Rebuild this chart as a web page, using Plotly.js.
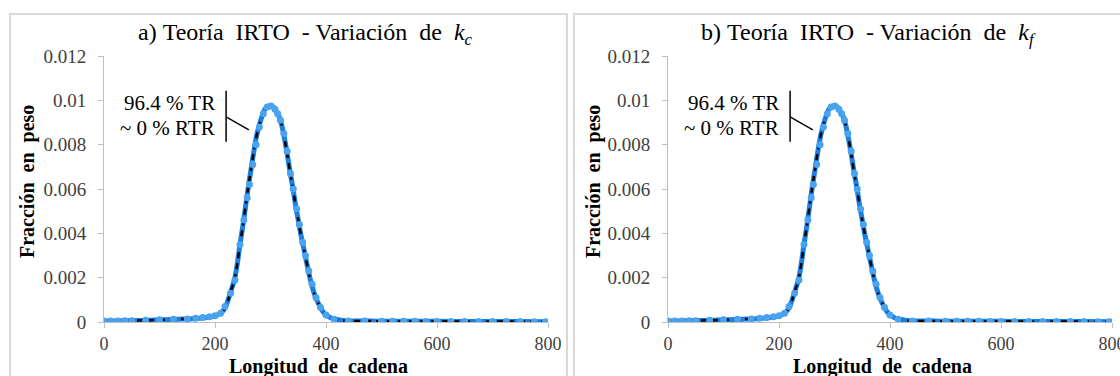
<!DOCTYPE html>
<html>
<head>
<meta charset="utf-8">
<script src="https://cdn.plot.ly/plotly-3.0.1.min.js"></script>
<style>html,body{margin:0;padding:0;background:#fff;}#chart{width:1120px;height:376px;}</style>
</head>
<body>
<div id="chart"></div>
<script>
// ---- data ----
const chainLength = [0,20,40,60,80,100,120,140,160,180,190,200,205,210,215,220,225,230,235,240,245,250,255,260,265,270,275,280,285,290,295,300,305,310,315,320,325,330,335,340,345,350,355,360,365,370,375,380,385,390,395,400,405,410,420,430,440,460,480,500,550,600,650,700,750,800];
const weightFrac = [0.00004,0.00005,0.00006,0.00007,0.00008,0.0001,0.00011,0.00013,0.00015,0.00019,0.00023,0.00028,0.00033,0.0004,0.00052,0.00075,0.0011,0.0015,0.0019,0.0026,0.0035,0.0043,0.0052,0.0061,0.0069,0.0077,0.0084,0.0089,0.0093,0.0096,0.00972,0.00975,0.0097,0.0095,0.0093,0.0089,0.0083,0.0076,0.0068,0.0061,0.0053,0.0046,0.0039,0.0033,0.0027,0.0021,0.0016,0.0012,0.0009,0.00066,0.00045,0.00032,0.00024,0.00017,0.00011,0.00007,0.00005,0.00004,0.00004,0.00003,0.00003,0.00003,0.00002,0.00002,0.00002,0.00001];
const markerX = [0,12,25,38,50,75,100,125,150,165,178,190,200,210,218,228,236,245,252,258,262,268,274,280,287,294,301,308,313,318,324,330,336,341,347,352,358,363,369,375,382,390,400,415,440,470,500,520,540,560,580,600,625,650,675,700,725,750,775,795];
const markerY = [0.00004,0.00004,0.00005,0.00006,0.00006,0.00008,0.0001,0.00012,0.00014,0.00017,0.0002,0.00024,0.00028,0.0004,0.0007,0.0013,0.0019,0.0035,0.0046,0.0056,0.0062,0.0071,0.008,0.0088,0.0094,0.0097,0.00975,0.0096,0.0094,0.0091,0.0085,0.0077,0.0067,0.006,0.0051,0.0044,0.0036,0.003,0.0023,0.0017,0.0011,0.00066,0.00032,0.00012,0.00005,0.00004,0.00003,0.00003,0.00003,0.00003,0.00002,0.00002,0.00002,0.00002,0.00002,0.00002,0.00002,0.00002,0.00001,0.00001];
const xTicks = [0,200,400,600,800];
const yTicks = [0,0.002,0.004,0.006,0.008,0.01,0.012];
const yTickText = ['0','0.002','0.004','0.006','0.008','0.01','0.012'];
const panelTitles = ['a)&nbsp;Teoría&nbsp; IRTO&nbsp; - Variación&nbsp; de&nbsp; <i>k<sub>c</sub></i>', 'b)&nbsp;Teoría&nbsp; IRTO&nbsp; - Variación&nbsp; de&nbsp; <i>k<sub>f</sub></i>'];
const noteLines = ['96.4 % TR', '~ 0 % RTR'];
const xTitle = 'Longitud&nbsp; de&nbsp; cadena';
const yTitle = 'Fracción&nbsp; en&nbsp; peso';

// ---- build ----
const serif = 'Liberation Serif, DejaVu Serif, serif';
const traces = [];
['', '2'].forEach(s => {
  const xa = 'x' + s, ya = 'y' + s;
  traces.push({x: chainLength, y: weightFrac, xaxis: xa, yaxis: ya, mode: 'lines', line: {color: '#e8175d', width: 3, shape: 'spline'}, hoverinfo: 'skip'});
  traces.push({x: chainLength, y: weightFrac, xaxis: xa, yaxis: ya, mode: 'lines', line: {color: '#1a80e6', width: 5, shape: 'spline'}, hoverinfo: 'skip'});
  traces.push({x: chainLength, y: weightFrac, xaxis: xa, yaxis: ya, mode: 'lines', line: {color: '#000000', width: 2.5, dash: '6px,5px', shape: 'spline'}, hoverinfo: 'skip'});
  traces.push({x: markerX, y: markerY, xaxis: xa, yaxis: ya, mode: 'markers', marker: {color: '#4aa3ef', size: 7}, hoverinfo: 'skip'});
});

const yDom = [(376-322)/376, (376-56)/376];
function xAx(dom, anchor) {
  return {domain: dom, anchor: anchor, range: [0, 800], tickvals: xTicks, ticks: 'outside', ticklen: 5, tickcolor: '#bfbfbf',
    showline: true, linecolor: '#bfbfbf', linewidth: 1, showgrid: false, zeroline: false, ticklabeloverflow: 'allow',
    ticklabelstandoff: 0,
    tickfont: {family: serif, size: 18, color: '#404040'}, fixedrange: true};
}
function yAx(anchor) {
  return {domain: yDom, anchor: anchor, range: [0, 0.012], tickvals: yTicks, ticktext: yTickText, ticks: 'outside', ticklen: 5, tickcolor: '#bfbfbf',
    showline: true, linecolor: '#bfbfbf', linewidth: 1, showgrid: false, zeroline: false, ticklabelstandoff: 8,
    tickfont: {family: serif, size: 19, color: '#404040'}, fixedrange: true};
}

const panels = [
  {xref: 'x', yref: 'y', titleX: 305, xTitleX: 318, yTitleX: 27, box: [10, 567]},
  {xref: 'x2', yref: 'y2', titleX: 868, xTitleX: 882, yTitleX: 593, box: [574, 1130]}
];
const annotations = [];
const shapes = [];
panels.forEach((p, i) => {
  annotations.push({xref: 'paper', yref: 'paper', x: p.titleX/1120, y: 1 - 34/376, xanchor: 'center', yanchor: 'middle', showarrow: false,
    text: panelTitles[i], font: {family: serif, size: 24, color: '#000'}});
  annotations.push({xref: 'paper', yref: 'paper', x: p.xTitleX/1120, y: 1 - 366/376, xanchor: 'center', yanchor: 'middle', showarrow: false,
    text: '<b>' + xTitle + '</b>', font: {family: serif, size: 20, color: '#000'}});
  annotations.push({xref: 'paper', yref: 'paper', x: p.yTitleX/1120, y: 1 - 182/376, xanchor: 'center', yanchor: 'middle', showarrow: false, textangle: -90,
    text: '<b>' + yTitle + '</b>', font: {family: serif, size: 20, color: '#000'}});
  annotations.push({xref: p.xref, yref: p.yref, x: 203, y: 0.00989, xanchor: 'right', yanchor: 'middle', showarrow: false,
    text: noteLines[0], font: {family: serif, size: 21, color: '#000'}});
  annotations.push({xref: p.xref, yref: p.yref, x: 203, y: 0.00876, xanchor: 'right', yanchor: 'middle', showarrow: false,
    text: noteLines[1], font: {family: serif, size: 21, color: '#000'}});
  shapes.push({type: 'line', xref: p.xref, yref: p.yref, x0: 220, x1: 220, y0: 0.01043, y1: 0.00813, line: {color: '#000', width: 1.5}});
  shapes.push({type: 'line', xref: p.xref, yref: p.yref, x0: 220, x1: 261, y0: 0.00925, y1: 0.00867, line: {color: '#000', width: 1.5}});
  shapes.push({type: 'rect', xref: 'paper', yref: 'paper', x0: p.box[0]/1120, x1: p.box[1]/1120, y0: -0.05, y1: 1 - 14/376, line: {color: '#d9d9d9', width: 2}, layer: 'below'});
});

const layout = {
  width: 1120, height: 376, margin: {l: 0, r: 0, t: 0, b: 0},
  paper_bgcolor: '#fff', plot_bgcolor: 'rgba(0,0,0,0)', showlegend: false,
  xaxis: xAx([104/1120, 548/1120], 'y'),
  yaxis: yAx('x'),
  xaxis2: xAx([668/1120, 1112/1120], 'y2'),
  yaxis2: yAx('x2'),
  annotations: annotations, shapes: shapes
};
Plotly.newPlot('chart', traces, layout, {displayModeBar: false, staticPlot: true});
</script>
</body>
</html>
